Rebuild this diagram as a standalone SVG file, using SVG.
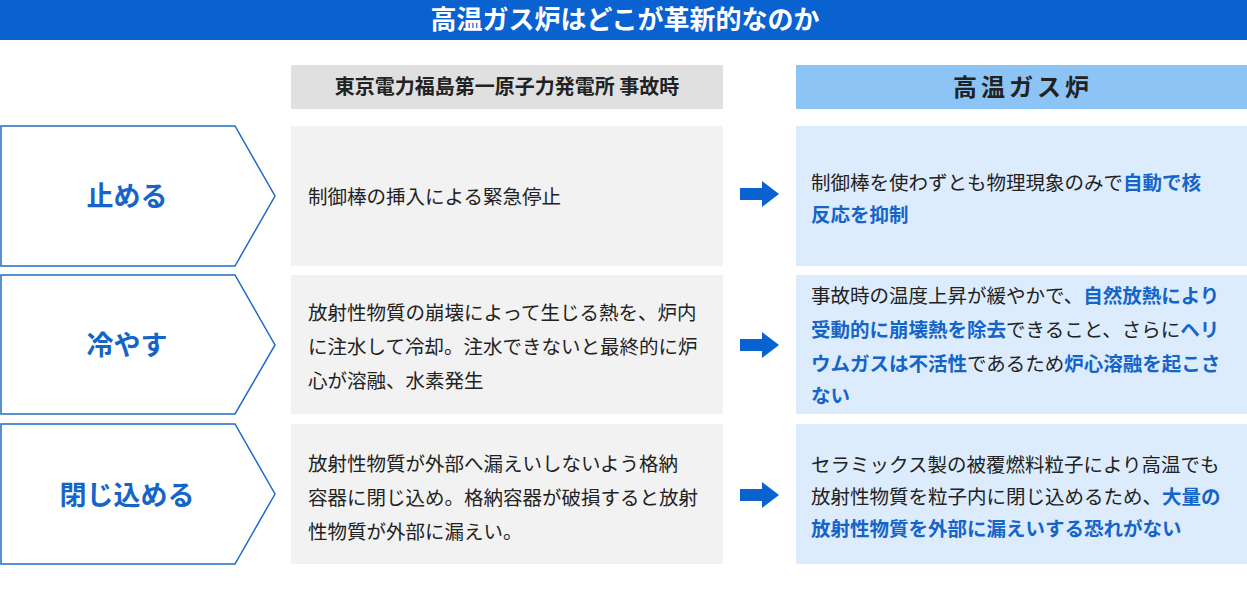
<svg xmlns="http://www.w3.org/2000/svg" width="1247" height="592" viewBox="0 0 1247 592">
<style>
text{font-family:"Noto Sans CJK JP","Noto Sans",sans-serif}
.t{font-size:19.5px;fill:#222}
.b{fill:#1565c8;font-weight:bold}
.lab{font-size:27px;font-weight:bold;fill:#1565c8;text-anchor:middle}
.pent{fill:#fff;stroke:#1e6bc6;stroke-width:1.5}
.g{fill:#f2f2f2}.lb{fill:#ddecfd}
.arr{fill:#0a62d0}
</style>
<rect width="1247" height="592" fill="#fff"/>
<g id="title"><rect x="0" y="0" width="1247" height="40" fill="#0a62d0"/><text x="625" y="29" text-anchor="middle" font-size="26" font-weight="bold" fill="#fff">高温ガス炉はどこが革新的なのか</text></g>
<g id="hdr-left"><rect x="291" y="65" width="432" height="44" fill="#e0e0e0"/><text x="507" y="94" text-anchor="middle" font-size="20" font-weight="bold" fill="#222">東京電力福島第一原子力発電所 事故時</text></g>
<g id="hdr-right"><rect x="796" y="65" width="451" height="44" fill="#8cc4f6"/><text x="1023" y="96" text-anchor="middle" font-size="24" font-weight="bold" fill="#222" letter-spacing="4">高温ガス炉</text></g>
<g id="row1">
<polygon class="pent" points="1,126 235,126 275,196 235,266 1,266"/><text class="lab" x="127" y="206">止める</text>
<rect class="g" x="291" y="126" width="432" height="140"/><text class="t" x="308" y="204">制御棒の挿入による緊急停止</text>
<rect class="lb" x="796" y="126" width="451" height="140"/>
<text class="t" x="811" y="190">制御棒を使わずとも物理現象のみで<tspan class="b">自動で核</tspan><tspan x="811" dy="32" class="b">反応を抑制</tspan></text>
</g>
<g id="row2">
<polygon class="pent" points="1,275 235,275 275,345 235,414 1,414"/><text class="lab" x="127" y="355">冷やす</text>
<rect class="g" x="291" y="275" width="432" height="139"/>
<text class="t" x="308" y="320">放射性物質の崩壊によって生じる熱を、炉内<tspan x="308" dy="34">に注水して冷却。注水できないと最終的に炉</tspan><tspan x="308" dy="34">心が溶融、水素発生</tspan></text>
<rect class="lb" x="796" y="275" width="451" height="139"/>
<text class="t" x="811" y="303">事故時の温度上昇が緩やかで、<tspan class="b">自然放熱により</tspan><tspan x="811" dy="34" class="b">受動的に崩壊熱を除去</tspan>できること、さらに<tspan class="b">ヘリ</tspan><tspan x="811" dy="34" class="b">ウムガスは不活性</tspan>であるため<tspan class="b">炉心溶融を起こさ</tspan><tspan x="811" dy="32" class="b">ない</tspan></text>
</g>
<g id="row3">
<polygon class="pent" points="1,424 235,424 275,494 235,564 1,564"/><text class="lab" x="127" y="505">閉じ込める</text>
<rect class="g" x="291" y="424" width="432" height="140"/>
<text class="t" x="308" y="471">放射性物質が外部へ漏えいしないよう格納<tspan x="308" dy="34">容器に閉じ込め。格納容器が破損すると放射</tspan><tspan x="308" dy="34">性物質が外部に漏えい。</tspan></text>
<rect class="lb" x="796" y="424" width="451" height="140"/>
<text class="t" x="811" y="472">セラミックス製の被覆燃料粒子により高温でも<tspan x="811" dy="32">放射性物質を粒子内に閉じ込めるため、</tspan><tspan class="b">大量の</tspan><tspan x="811" dy="32" class="b">放射性物質を外部に漏えいする恐れがない</tspan></text>
</g>
<g id="connectors">
<polygon class="arr" points="740,188 762,188 762,181 779,194 762,207 762,200 740,200"/>
<polygon class="arr" points="740,339 762,339 762,332 779,345 762,358 762,351 740,351"/>
<polygon class="arr" points="740,489 762,489 762,482 779,495 762,508 762,501 740,501"/>
</g>
</svg>
